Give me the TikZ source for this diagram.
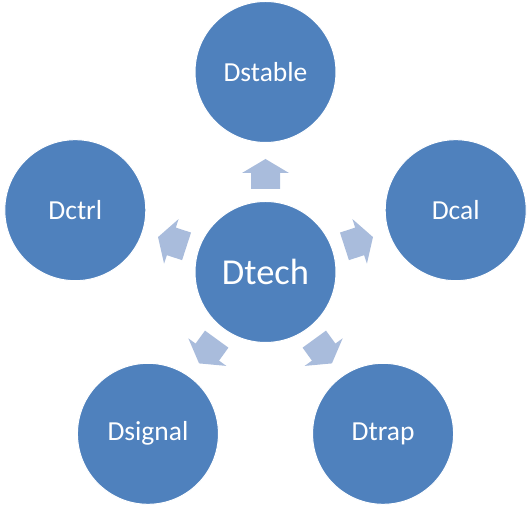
\documentclass[tikz,border=0pt]{standalone}
\usepackage{fontspec}
\setmainfont{Carlito}
\usetikzlibrary{calc}
\definecolor{circblue}{RGB}{79,129,189}
\definecolor{arrblue}{RGB}{169,188,220}
\begin{document}
\begin{tikzpicture}[x=1pt,y=1pt,
    disc/.style={circle,fill=circblue,draw=white,line width=1pt,minimum size=141pt,inner sep=0pt,text=white,font=\fontsize{27.5}{33}\selectfont}]
    \useasboundingbox(0,0)rectangle(531,508);
    \node[disc,font=\fontsize{36.5}{44}\selectfont](tech)at(265.5,236){Dtech};
    \foreach \a/\name/\label in {90/stable/Dstable,18/cal/Dcal,-54/trap/Dtrap,-126/signal/Dsignal,162/ctrl/Dctrl}{
        \node[disc](\name)at($(tech)+(\a:200)$){\label};
        \fill[arrblue,shift={(tech)},rotate=\a](83,-14.5)--(99,-14.5)--(99,-23.5)--(113,0)--(99,23.5)--(99,14.5)--(83,14.5)--cycle;
    }
\end{tikzpicture}
\end{document}
